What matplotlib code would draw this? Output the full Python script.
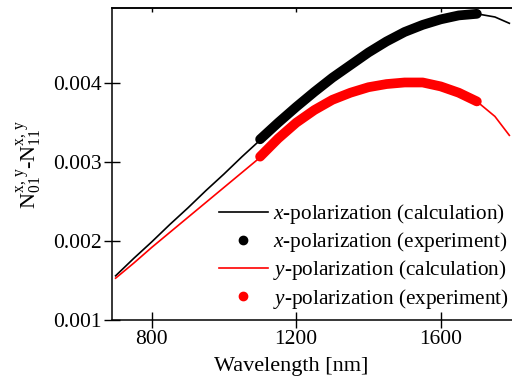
import matplotlib
matplotlib.use("Agg")
import matplotlib.pyplot as plt
from matplotlib.lines import Line2D

plt.rcParams['font.family'] = ['Liberation Serif', 'DejaVu Serif']
plt.rcParams['mathtext.fontset'] = 'custom'
plt.rcParams['mathtext.rm'] = 'Liberation Serif'
plt.rcParams['mathtext.it'] = 'Liberation Serif:italic'

# calculation curves
calc_wl = [700, 750, 800, 850, 900, 950, 1000, 1050, 1100, 1150, 1200, 1250, 1300,
           1350, 1400, 1450, 1500, 1550, 1600, 1650, 1700, 1750, 1790]
calc_x = [0.00156, 0.00178, 0.00199, 0.00221, 0.00242, 0.00264, 0.00285, 0.00307,
          0.00328, 0.00350, 0.00370, 0.00389, 0.00407, 0.00423, 0.00439, 0.00453,
          0.00465, 0.00474, 0.00481, 0.00486, 0.00488, 0.00484, 0.00476]
calc_y = [0.00153, 0.00172, 0.00192, 0.00211, 0.00230, 0.00249, 0.00268, 0.00287,
          0.00306, 0.00330, 0.00350, 0.00366, 0.00379, 0.00388, 0.00395, 0.00399,
          0.00401, 0.00401, 0.00396, 0.00388, 0.00377, 0.00358, 0.00334]

# experiment
exp_wl = [1100, 1150, 1200, 1250, 1300, 1350, 1400, 1450, 1500, 1550, 1600, 1650, 1700]
exp_x = [0.00329, 0.00350, 0.00370, 0.00389, 0.00407, 0.00423, 0.00439, 0.00453,
         0.00465, 0.00474, 0.00481, 0.00486, 0.00488]
exp_y = [0.00307, 0.00330, 0.00350, 0.00366, 0.00379, 0.00388, 0.00395, 0.00399,
         0.00401, 0.00401, 0.00396, 0.00388, 0.00377]

labels = [r'$\it{x}$-polarization (calculation)',
          r'$\it{x}$-polarization (experiment)',
          r'$\it{y}$-polarization (calculation)',
          r'$\it{y}$-polarization (experiment)']
xticks = [800, 1200, 1600]
yticks = [0.001, 0.002, 0.003, 0.004]

fig = plt.figure(figsize=(5.12, 3.85), dpi=100)
ax = fig.add_axes([112/512, 65/385, 411.8/512, 311.7/385])

ax.plot(exp_wl, exp_x, '-', color='black', lw=7, solid_capstyle='round',
        solid_joinstyle='round')
ax.plot(exp_wl, exp_y, '-', color='red', lw=7, solid_capstyle='round',
        solid_joinstyle='round')
ax.plot(calc_wl, calc_x, '-', color='black', lw=1.2)
ax.plot(calc_wl, calc_y, '-', color='red', lw=1.2)

ax.set_xlim(690, 1830)
ax.set_ylim(0.001, 0.00495)
ax.set_xticks(xticks)
ax.set_yticks(yticks)
ax.set_yticklabels(['%.3f' % v for v in yticks])
ax.tick_params(axis='both', which='major', direction='inout', length=11, width=1.0,
               labelsize=15.5, pad=2)
for s in ax.spines.values():
    s.set_linewidth(1.1)

sec = ax.secondary_xaxis('top')
sec.set_xticks(xticks)
sec.tick_params(direction='in', length=3, width=1.0, labeltop=False)
sec.spines['top'].set_linewidth(1.1)

ax.set_xlabel('Wavelength [nm]', fontsize=16)
ax.xaxis.set_label_coords((291-112)/411.8, -(357-320)/311.7, transform=ax.transAxes)
ax.set_ylabel(r'N$_{\rm 01}^{\rm x,\,y}$-N$_{\rm 11}^{\rm x,\,y}$', fontsize=16)
ax.yaxis.set_label_coords(-(112-44)/411.8, 0.5)

handles = [Line2D([], [], color='black', lw=1.2),
           Line2D([], [], color='black', marker='o', ls='', ms=6),
           Line2D([], [], color='red', lw=1.2),
           Line2D([], [], color='red', marker='o', ls='', ms=6)]
fig.legend(handles, labels, loc='upper left', bbox_to_anchor=(219/512, 1-202/385),
           frameon=False, fontsize=15.3, handlelength=2.3, handletextpad=0.25,
           borderpad=0, borderaxespad=0, labelspacing=0.2)

fig.savefig('out.png', dpi=100)
